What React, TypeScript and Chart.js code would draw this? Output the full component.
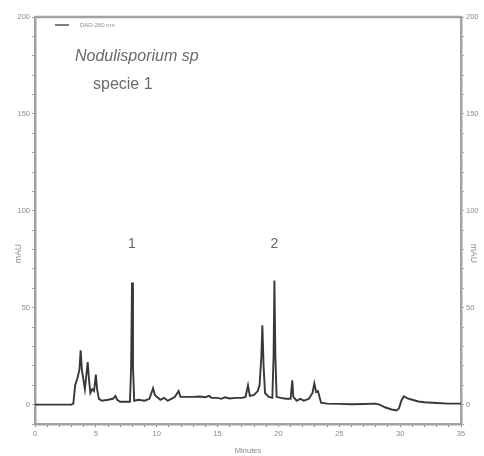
import React, { useEffect, useRef } from "react";
import { Chart, registerables } from "chart.js";

Chart.register(...registerables);

// Retention time (minutes) and detector response (mAU) of the DAD-260 nm trace
const times = [
  0, 1, 2, 3, 3.15, 3.3, 3.5, 3.65, 3.75, 3.85, 4.0, 4.1, 4.2, 4.33, 4.45, 4.55, 4.7, 4.85, 5.0, 5.1,
  5.25, 5.5, 6.0, 6.4, 6.6, 6.75, 7.0, 7.5, 7.8, 7.9, 7.97, 8.05, 8.15, 8.5, 9.0, 9.4, 9.7, 9.85, 10.0,
  10.3, 10.6, 10.9, 11.2, 11.5, 11.8, 11.95, 12.2, 12.6, 13.0, 13.5, 14.0, 14.3, 14.5, 15.0, 15.3, 15.6,
  16.0, 16.5, 17.0, 17.3, 17.5, 17.65, 18.0, 18.3, 18.45, 18.6, 18.68, 18.78, 18.9, 19.2, 19.5, 19.6,
  19.67, 19.75, 19.85, 20.2, 20.6, 21.0, 21.07, 21.14, 21.22, 21.5, 21.8, 22.1, 22.5, 22.8, 22.95, 23.1,
  23.25, 23.5, 24, 25, 26, 27, 28, 28.3, 28.8, 29.3, 29.7, 29.9, 30.1, 30.3, 30.6, 31.0, 31.5, 32.0, 33,
  34, 35,
];
const absorbance = [
  0, 0, 0, 0, 0.5, 10, 14, 18, 28, 18, 12, 8, 14, 22, 12, 6, 8, 7, 15.5, 8,
  3, 2, 2.5, 3, 4.5, 2.5, 1.5, 1.5, 1.5, 20, 63, 20, 2, 2.5, 2, 3, 8.5, 5, 4,
  2.5, 3.5, 2, 3, 4, 7, 4, 4, 4, 4, 4.2, 3.8, 4.5, 3.5, 3.5, 3, 3.8,
  3.2, 3.5, 3.5, 4, 10, 4.5, 5, 7, 10, 25, 41, 20, 6, 4, 3.5, 25,
  64, 25, 4, 3.5, 3, 3, 8, 12.5, 4, 2, 3, 2, 3, 6, 11, 6.5,
  7, 1, 0.5, 0.4, 0.2, 0.3, 0.5, 0, -1.5, -2.5, -3, -2, 2, 4.3, 3.2, 2.5, 1.6, 1.2, 0.8,
  0.5, 0.5,
];

// Peak numbers printed above the two main peaks
const peakLabels = ["1", "2"];
const peakTimes = [7.97, 19.67];
const peakLabelLevel = 83;

const xTicksMinor = 1;
const yTicksMinor = 10;
const seriesName = "DAD-260 nm";
const sampleName = "Nodulisporium sp";
const sampleSub = "specie 1";

const AXIS = "#a2a2a2";
const TEXT = "#8a8a8a";
const FONT = "'Liberation Sans', Arial, sans-serif";

const annotations = {
  id: "annotations",
  afterDraw(chart: any) {
    const { ctx, chartArea, scales } = chart;
    const x = scales.x;
    const y = scales.y;
    ctx.save();
    // frame top
    ctx.strokeStyle = AXIS;
    ctx.lineWidth = 2.5;
    ctx.beginPath();
    ctx.moveTo(chartArea.left - 1, chartArea.top);
    ctx.lineTo(chartArea.right + 1, chartArea.top);
    ctx.stroke();

    // legend
    ctx.strokeStyle = "#555";
    ctx.lineWidth = 1.5;
    ctx.beginPath();
    ctx.moveTo(chartArea.left + 20, chartArea.top + 8);
    ctx.lineTo(chartArea.left + 34, chartArea.top + 8);
    ctx.stroke();
    ctx.fillStyle = TEXT;
    ctx.font = `6px ${FONT}`;
    ctx.textBaseline = "middle";
    ctx.textAlign = "left";
    ctx.fillText(seriesName, chartArea.left + 45, chartArea.top + 8);

    // sample name
    ctx.fillStyle = "#6a6a6a";
    ctx.font = `italic 16px ${FONT}`;
    ctx.fillText(sampleName, chartArea.left + 40, chartArea.top + 40);
    ctx.font = `16px ${FONT}`;
    ctx.fillText(sampleSub, chartArea.left + 58, chartArea.top + 68);

    // peak numbers
    ctx.fillStyle = "#666";
    ctx.font = `14px ${FONT}`;
    ctx.textAlign = "center";
    peakLabels.forEach((lab, i) => {
      ctx.fillText(lab, x.getPixelForValue(peakTimes[i]), y.getPixelForValue(peakLabelLevel));
    });

    // axis titles
    ctx.fillStyle = TEXT;
    ctx.font = `7.5px ${FONT}`;
    ctx.fillText("Minutes", (chartArea.left + chartArea.right) / 2, chartArea.bottom + 27);
    const midY = y.getPixelForValue(78);
    ctx.font = `8.5px ${FONT}`;
    ctx.save();
    ctx.translate(19, midY);
    ctx.rotate(-Math.PI / 2);
    ctx.fillText("mAU", 0, 0);
    ctx.restore();
    ctx.save();
    ctx.translate(chartArea.right + 12, midY);
    ctx.rotate(Math.PI / 2);
    ctx.fillText("mAU", 0, 0);
    ctx.restore();
    ctx.restore();
  },
};

export default function App() {
  const canvasRef = useRef<HTMLCanvasElement | null>(null);

  useEffect(() => {
    if (!canvasRef.current) return;
    const points = times.map((t, i) => ({ x: t, y: absorbance[i] }));
    const yCommon = (position: "left" | "right", width: number) => ({
      type: "linear" as const,
      position,
      min: -10,
      max: 200,
      afterFit(scale: any) {
        scale.width = width;
      },
      border: { display: true, color: AXIS, width: 2.5 },
      grid: { drawOnChartArea: false, drawTicks: true, tickLength: 3, color: AXIS, lineWidth: 1 },
      ticks: {
        stepSize: yTicksMinor,
        autoSkip: false,
        padding: 2,
        color: TEXT,
        font: { size: 7.5, family: FONT },
        callback: (v: any) => (v >= 0 && v % 50 === 0 ? String(v) : ""),
      },
    });
    const chart = new Chart(canvasRef.current, {
      type: "line",
      data: {
        datasets: [
          {
            label: seriesName,
            data: points,
            borderColor: "#383838",
            borderWidth: 1.9,
            pointRadius: 0,
            tension: 0,
            yAxisID: "y",
          },
        ],
      },
      options: {
        responsive: false,
        animation: false,
        devicePixelRatio: 1,
        layout: { padding: { top: 17, left: 0, right: 0, bottom: 0 } },
        plugins: { legend: { display: false }, title: { display: false }, tooltip: { enabled: false } },
        scales: {
          x: {
            type: "linear",
            min: 0,
            max: 35,
            afterFit(scale: any) {
              scale.height = 32;
            },
            border: { display: true, color: AXIS, width: 2.5 },
            grid: { drawOnChartArea: false, drawTicks: true, tickLength: 3, color: "#777", lineWidth: 1 },
            ticks: {
              stepSize: xTicksMinor,
              autoSkip: false,
              maxRotation: 0,
              padding: 2,
              color: TEXT,
              font: { size: 7.5, family: FONT },
              callback: (v: any) => (v % 5 === 0 ? String(v) : ""),
            },
          },
          y: yCommon("left", 35),
          y2: yCommon("right", 23),
        },
      },
      plugins: [annotations],
    });
    return () => chart.destroy();
  }, []);

  return (
    <div style={{ position: "fixed", left: 0, top: 0, width: 484, height: 456, background: "#fff" }}>
      <canvas ref={canvasRef} width={484} height={456} />
    </div>
  );
}
